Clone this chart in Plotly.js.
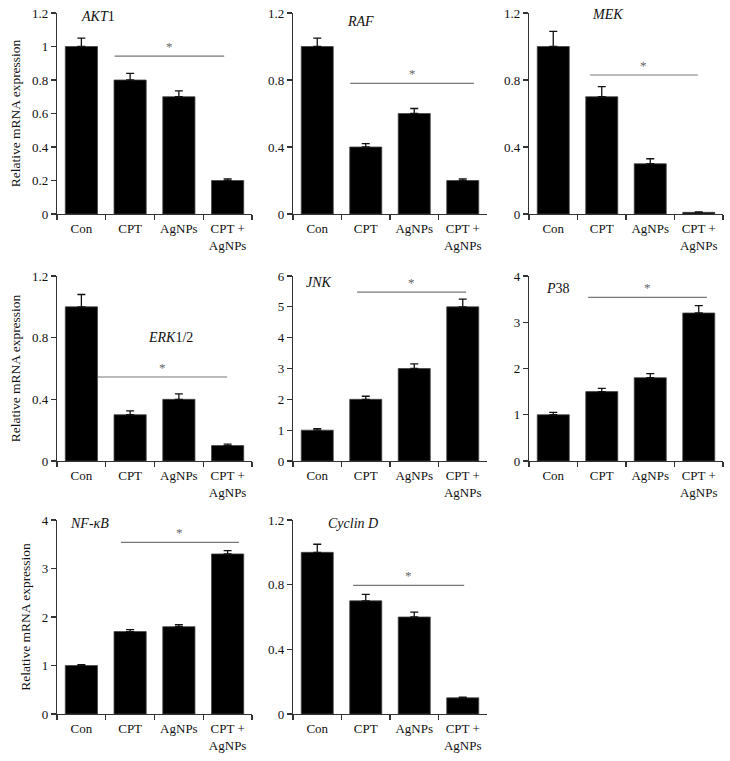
<!DOCTYPE html>
<html>
<head>
<meta charset="utf-8">
<script src="https://cdn.plot.ly/plotly-3.0.1.min.js"></script>
<style>html,body{margin:0;padding:0;background:#fff;}#chart{width:730px;height:761px;}</style>
</head>
<body>
<div id="chart"></div>
<script>
// ---- data ----
const categories = ["Con", "CPT", "AgNPs", "CPT +<br>AgNPs"];
const genes = ["<i>AKT</i>1", "<i>RAF</i>", "<i>MEK</i>", "<i>ERK</i>1/2", "<i>JNK</i>", "<i>P</i>38", "<i>NF-κB</i>", "<i>Cyclin D</i>"];
const akt1 = [1.0, 0.8, 0.7, 0.2];
const akt1Err = [0.05, 0.04, 0.035, 0.01];
const raf = [1.0, 0.4, 0.6, 0.2];
const rafErr = [0.05, 0.02, 0.03, 0.01];
const mek = [1.0, 0.7, 0.3, 0.01];
const mekErr = [0.09, 0.06, 0.03, 0.002];
const erk = [1.0, 0.3, 0.4, 0.1];
const erkErr = [0.08, 0.025, 0.035, 0.01];
const jnk = [1.0, 2.0, 3.0, 5.0];
const jnkErr = [0.05, 0.1, 0.15, 0.25];
const p38 = [1.0, 1.5, 1.8, 3.2];
const p38Err = [0.05, 0.07, 0.09, 0.16];
const nfkb = [1.0, 1.7, 1.8, 3.3];
const nfkbErr = [0.02, 0.04, 0.04, 0.07];
const cyclinD = [1.0, 0.7, 0.6, 0.1];
const cyclinDErr = [0.05, 0.04, 0.03, 0.005];
const yTitle = "Relative mRNA expression";

const values = [akt1, raf, mek, erk, jnk, p38, nfkb, cyclinD];
const errors = [akt1Err, rafErr, mekErr, erkErr, jnkErr, p38Err, nfkbErr, cyclinDErr];

// ---- layout config (positions/styles) ----
const W = 730, H = 761;
const colPx = [[57, 252], [293, 487], [529, 723]];
const rowPx = [[13, 214], [276, 461], [520, 714]];
const yMax = [1.2, 1.2, 1.2, 1.2, 6, 4, 4, 1.2];
const yDtick = [0.2, 0.4, 0.4, 0.4, 1, 1, 1, 0.4];
const labelPos = [[0.34, 1.18], [0.90, 1.15], [1.11, 1.19], [1.82, 0.80], [0.04, 5.80], [0.10, 3.74], [0.16, 3.92], [0.74, 1.18]];
const sigLine = [[0.68, 2.93, 0.943], [0.68, 3.23, 0.78], [0.76, 2.98, 0.83], [0.34, 2.99, 0.545], [0.82, 3.07, 5.48], [0.72, 3.17, 3.54], [0.81, 3.23, 3.54], [0.74, 3.03, 0.796]];

const font = "Liberation Serif, Times New Roman, serif";
const axisColor = "#333";
const traces = [];
const layout = {
  width: W, height: H,
  margin: {l: 0, r: 0, t: 0, b: 0},
  paper_bgcolor: "#fff", plot_bgcolor: "#fff",
  showlegend: false,
  font: {family: font, size: 13, color: "#111"},
  bargap: 0.34,
  annotations: [], shapes: []
};

for (let i = 0; i < 8; i++) {
  const r = Math.floor(i / 3), c = i % 3;
  const xa = i === 0 ? "x" : "x" + (i + 1);
  const ya = i === 0 ? "y" : "y" + (i + 1);
  const xk = i === 0 ? "xaxis" : "xaxis" + (i + 1);
  const yk = i === 0 ? "yaxis" : "yaxis" + (i + 1);
  traces.push({
    type: "bar", x: categories, y: values[i], xaxis: xa, yaxis: ya,
    marker: {color: "#000", line: {color: "#444", width: 0.8}},
    error_y: {type: "data", symmetric: false, array: errors[i], arrayminus: errors[i].map(() => 0),
              color: "#111", thickness: 1.3, width: 4},
    hoverinfo: "none"
  });
  layout[xk] = {
    domain: [colPx[c][0] / W, colPx[c][1] / W],
    anchor: ya, type: "category", range: [-0.5, 3.5],
    showline: true, linecolor: axisColor, linewidth: 1.2,
    ticks: "outside", tickson: "boundaries", ticklen: 5, tickcolor: axisColor, tickwidth: 1.2,
    showgrid: false, zeroline: false, ticklabelstandoff: 2,
    tickfont: {family: font, size: 13, color: "#111"}, fixedrange: true
  };
  layout[yk] = {
    domain: [1 - rowPx[r][1] / H, 1 - rowPx[r][0] / H],
    anchor: xa, range: [0, yMax[i]], dtick: yDtick[i], tick0: 0,
    showline: true, linecolor: axisColor, linewidth: 1.2,
    ticks: "outside", ticklen: 5, tickcolor: axisColor, tickwidth: 1.2,
    showgrid: false, zeroline: false,
    tickfont: {family: font, size: 13, color: "#111"}, fixedrange: true,
    title: c === 0 ? {text: yTitle, font: {family: font, size: 13.5, color: "#111"}, standoff: 8} : {text: ""}
  };
  layout.annotations.push({
    xref: xa, yref: ya, x: labelPos[i][0], y: labelPos[i][1], text: genes[i],
    showarrow: false, font: {family: font, size: 14, color: "#111"}, xanchor: "center", yanchor: "middle"
  });
  const s = sigLine[i];
  layout.shapes.push({
    type: "line", xref: xa, yref: ya, x0: s[0], x1: s[1], y0: s[2], y1: s[2],
    line: {color: "#777", width: 1.2}
  });
  layout.annotations.push({
    xref: xa, yref: ya, x: (s[0] + s[1]) / 2, y: s[2], text: "*",
    showarrow: false, font: {family: font, size: 13, color: "#666"}, xanchor: "center", yanchor: "bottom", yshift: 0
  });
}

Plotly.newPlot("chart", traces, layout, {displayModeBar: false, staticPlot: true});
</script>
</body>
</html>
